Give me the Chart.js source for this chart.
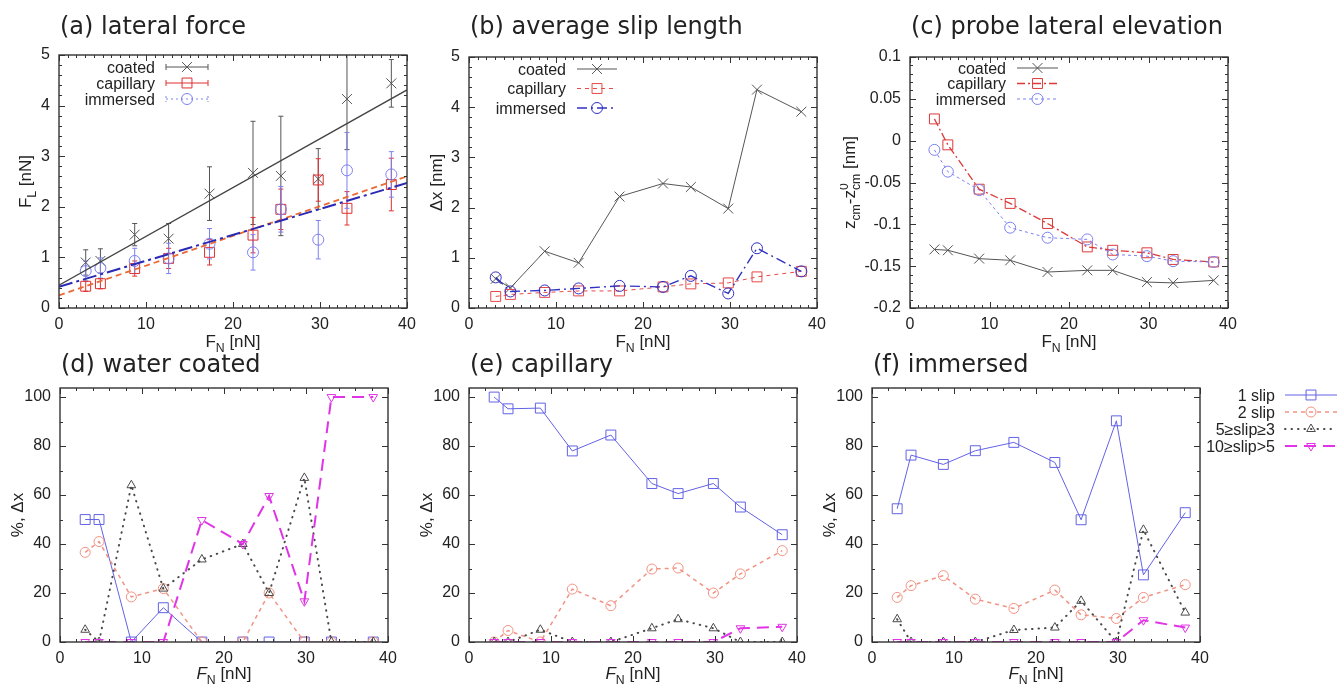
<!DOCTYPE html>
<html>
<head>
<meta charset="utf-8">
<title>Friction panels</title>
<script src="https://cdn.jsdelivr.net/npm/chart.js@4.4.1/dist/chart.umd.min.js"></script>
<style>
  html, body { margin: 0; background: #fff; }
  body { position: relative; width: 1342px; height: 684px; overflow: hidden; }
  .panel { position: absolute; }
</style>
</head>
<body>
<div class="panel" id="pa"><canvas></canvas></div>
<div class="panel" id="pb"><canvas></canvas></div>
<div class="panel" id="pc"><canvas></canvas></div>
<div class="panel" id="pd"><canvas></canvas></div>
<div class="panel" id="pe"><canvas></canvas></div>
<div class="panel" id="pf"><canvas></canvas></div>
<script>
// normal load F_N [nN], same for every panel
const loadN = [3.07, 4.76, 8.7, 12.6, 17.3, 22.3, 25.5, 29.8, 33.1, 38.2];

// (a) lateral force F_L [nN] and its error bars
const latCoated = [0.9, 0.93, 1.45, 1.37, 2.26, 2.67, 2.61, 2.55, 4.13, 4.44];
const latCoatedErr = [0.25, 0.24, 0.22, 0.3, 0.53, 1.02, 1.18, 0.6, 1.0, 0.47];
const latCapillary = [0.43, 0.48, 0.78, 0.98, 1.1, 1.44, 1.95, 2.53, 1.97, 2.44];
const latCapillaryErr = [0.1, 0.1, 0.15, 0.2, 0.25, 0.35, 0.4, 0.42, 0.33, 0.52];
const latImmersed = [0.73, 0.79, 0.93, 0.98, 1.27, 1.1, 1.95, 1.35, 2.72, 2.64];
const latImmersedErr = [0.2, 0.2, 0.25, 0.3, 0.3, 0.35, 0.45, 0.38, 0.75, 0.45];
// linear fits, evaluated at both ends of the axis
const fitLoad = [0, 40];
const fitCoated = [0.45, 4.31];
const fitCapillary = [0.25, 2.6];
const fitImmersed = [0.42, 2.47];

// (b) average slip length [nm]
const slipCoated = [0.58, 0.4, 1.13, 0.9, 2.22, 2.48, 2.41, 1.98, 4.35, 3.91];
const slipCapillary = [0.23, 0.27, 0.31, 0.34, 0.34, 0.42, 0.48, 0.5, 0.62, 0.73];
const slipImmersed = [0.61, 0.33, 0.35, 0.39, 0.44, 0.42, 0.64, 0.29, 1.19, 0.73];

// (c) probe lateral elevation [nm]
const elevCoated = [-0.130, -0.131, -0.141, -0.143, -0.157, -0.155, -0.155, -0.169, -0.170, -0.167];
const elevCapillary = [0.026, -0.005, -0.058, -0.075, -0.099, -0.127, -0.131, -0.134, -0.142, -0.145];
const elevImmersed = [-0.011, -0.037, -0.059, -0.104, -0.116, -0.118, -0.136, -0.138, -0.144, -0.145];

// (d)-(f) share of slip events [%]
const coat1 = [50, 50, 0, 14, 0, 0, 0, 0, 0, 0];
const coat2 = [36.6, 41, 18.4, 21.8, 0, 0, 20, 0, 0, 0];
const coat3to5 = [5, 0, 64, 21.8, 33.7, 40, 20, 67, 0, 0];
const coat6to10 = [0, 0, 0, 0, 49.8, 40, 59.6, 16.6, 100, 100];

const cap1 = [100, 95.2, 95.5, 78, 84.5, 64.7, 60.6, 64.7, 55.1, 43.8];
const cap2 = [0, 4.7, 0, 21.6, 14.8, 29.8, 30.2, 20, 27.8, 37.3];
const cap3to5 = [0, 0, 5, 0, 0, 5.6, 9.3, 5.6, 0, 0];
const cap6to10 = [0, 0, 0, 0, 0, 0, 0, 0, 5.6, 6.2];

const imm1 = [54.4, 76.3, 72.5, 78.1, 81.5, 73.3, 49.9, 90.3, 27.4, 52.8];
const imm2 = [18.2, 23, 27.1, 17.5, 13.7, 21.2, 11.1, 9.6, 18.2, 23.4];
const imm3to5 = [9.3, 0, 0, 0, 4.9, 5.9, 16.8, 0, 45.8, 12];
const imm6to10 = [0, 0, 0, 0, 0, 0, 0, 0, 8.9, 5.9];

// tick labels
const ticksLoad = [0, 10, 20, 30, 40];
const ticksForce = [0, 1, 2, 3, 4, 5];
const ticksElev = [-0.2, -0.15, -0.1, -0.05, 0, 0.05, 0.1];
const ticksPct = [0, 20, 40, 60, 80, 100];

const TICK_FONT = '"Liberation Sans", Arial, sans-serif';
const TITLE_FONT = '"DejaVu Sans", sans-serif';

const pts = ys => loadN.map((x, i) => ({ x, y: ys[i] }));
const fitPts = ys => fitLoad.map((x, i) => ({ x, y: ys[i] }));

// text with sub/superscripts: parts are [text, mode]
function drawRich(ctx, parts, cx, cy, size, vertical) {
  const small = size * 0.72;
  const fontOf = (s, it) => `${it ? 'italic ' : ''}${s}px ${TICK_FONT}`;
  const segs = parts.map(([t, m]) => {
    if (m === 'ss') {
      const [up, dn] = t.split('|');
      ctx.font = fontOf(small);
      return { m, up, dn, w: Math.max(ctx.measureText(up).width, ctx.measureText(dn).width) };
    }
    const s = (m === 'sub' || m === 'sup') ? small : size;
    ctx.font = fontOf(s, m === 'i');
    return { m, t, s, w: ctx.measureText(t).width };
  });
  const total = segs.reduce((a, g) => a + g.w, 0);
  ctx.save();
  ctx.translate(cx, cy);
  if (vertical) ctx.rotate(-Math.PI / 2);
  ctx.fillStyle = '#222';
  ctx.textAlign = 'left';
  ctx.textBaseline = 'alphabetic';
  const base = size * 0.36;
  let x = -total / 2;
  segs.forEach(g => {
    if (g.m === 'ss') {
      ctx.font = fontOf(small);
      ctx.fillText(g.up, x, base - size * 0.42);
      ctx.fillText(g.dn, x, base + size * 0.28);
    } else {
      ctx.font = fontOf(g.s, g.m === 'i');
      const dy = g.m === 'sub' ? size * 0.28 : g.m === 'sup' ? -size * 0.42 : 0;
      ctx.fillText(g.t, x, base + dy);
    }
    x += g.w;
  });
  ctx.restore();
}

// gnuplot-like decorations: box, inward ticks, error bars, titles, key
function deco(cfg) {
  const [bx, by] = cfg.box;
  return {
    id: 'deco',
    beforeDatasetsDraw(chart) {
      const { ctx, chartArea: a, scales: { x, y } } = chart;
      ctx.save();
      ctx.beginPath();
      ctx.rect(a.left, a.top, a.right - a.left, a.bottom - a.top);
      ctx.clip();
      chart.data.datasets.forEach(ds => {
        if (!ds.errorBars) return;
        ctx.strokeStyle = ds.borderColor;
        ctx.lineWidth = 1;
        ds.data.forEach((p, i) => {
          const e = ds.errorBars[i];
          const px = x.getPixelForValue(p.x);
          const y0 = y.getPixelForValue(p.y - e), y1 = y.getPixelForValue(p.y + e);
          ctx.beginPath();
          ctx.moveTo(px, y0); ctx.lineTo(px, y1);
          ctx.moveTo(px - 2.5, y0); ctx.lineTo(px + 2.5, y0);
          ctx.moveTo(px - 2.5, y1); ctx.lineTo(px + 2.5, y1);
          ctx.stroke();
        });
      });
      ctx.restore();
    },
    afterDatasetsDraw(chart) {
      const { ctx, chartArea: a, scales: { x, y } } = chart;
      ctx.save();
      ctx.strokeStyle = '#333';
      ctx.lineWidth = 1;
      const isMajor = (sc, v) => sc.ticks.some(t => Math.abs(t.value - v) < 1e-6);
      const nx = Math.round((x.max - x.min) / cfg.xMinor);
      for (let k = 0; k <= nx; k++) {
        const v = x.min + k * cfg.xMinor;
        const px = Math.round(x.getPixelForValue(v)) + 0.5;
        const len = isMajor(x, v) ? 6 : 3;
        ctx.beginPath();
        ctx.moveTo(px, a.bottom); ctx.lineTo(px, a.bottom - len);
        ctx.moveTo(px, a.top); ctx.lineTo(px, a.top + len);
        ctx.stroke();
      }
      const ny = Math.floor((y.max - y.min) / cfg.yMinor + 1e-6);
      for (let k = 0; k <= ny; k++) {
        const v = +(y.min + k * cfg.yMinor).toFixed(6);
        const py = Math.round(y.getPixelForValue(v)) + 0.5;
        const len = isMajor(y, v) ? 6 : 3;
        ctx.beginPath();
        ctx.moveTo(a.left, py); ctx.lineTo(a.left + len, py);
        ctx.moveTo(a.right, py); ctx.lineTo(a.right - len, py);
        ctx.stroke();
      }
      ctx.lineWidth = 1.4;
      ctx.strokeRect(a.left, a.top, a.right - a.left, a.bottom - a.top);
      ctx.restore();
    },
    afterDraw(chart) {
      const { ctx, chartArea: a } = chart;
      ctx.save();
      ctx.fillStyle = '#222';
      ctx.font = `24px ${TITLE_FONT}`;
      ctx.textAlign = 'left';
      ctx.textBaseline = 'alphabetic';
      ctx.fillText(cfg.title, a.left + 1, cfg.titleY - by);
      drawRich(ctx, cfg.xTitle, (a.left + a.right) / 2, cfg.xTitleY - by, 17, false);
      drawRich(ctx, cfg.yTitle, cfg.yTitleX - bx, (a.top + a.bottom) / 2, 17, true);
      const lg = cfg.legend;
      if (lg) {
        lg.items.forEach((di, k) => {
          const ds = chart.data.datasets[di];
          const ly = lg.y + k * lg.dy - by;
          const x0 = lg.x0 - bx, x1 = lg.x1 - bx;
          ctx.font = `16px ${TICK_FONT}`;
          ctx.textAlign = 'right';
          ctx.fillStyle = '#222';
          ctx.fillText(ds.label, lg.x - bx, ly + 5.5);
          ctx.strokeStyle = ds.borderColor;
          ctx.lineWidth = ds.borderWidth || 1;
          ctx.lineCap = ds.borderCapStyle || 'butt';
          ctx.setLineDash(ds.borderDash || []);
          ctx.beginPath();
          ctx.moveTo(x0, ly); ctx.lineTo(x1, ly);
          if (lg.caps) {
            ctx.moveTo(x0, ly - 3); ctx.lineTo(x0, ly + 3);
            ctx.moveTo(x1, ly - 3); ctx.lineTo(x1, ly + 3);
          }
          ctx.stroke();
          ctx.setLineDash([]);
          ctx.lineCap = 'butt';
          ctx.strokeStyle = ds.pointBorderColor || ds.borderColor;
          ctx.fillStyle = 'rgba(0,0,0,0)';
          ctx.lineWidth = ds.pointBorderWidth || 1;
          Chart.helpers.drawPoint(ctx, {
            pointStyle: ds.pointStyle, radius: ds.pointRadius,
            rotation: ds.pointRotation || 0, borderWidth: ds.pointBorderWidth || 1
          }, (x0 + x1) / 2, ly);
        });
      }
      ctx.restore();
    }
  };
}

function makePanel(id, cfg, datasets) {
  const [bx, by, bw, bh] = cfg.box;
  const [al, at, ar, ab] = cfg.area;
  const wrap = document.getElementById(id);
  Object.assign(wrap.style, { left: bx + 'px', top: by + 'px', width: bw + 'px', height: bh + 'px' });
  const yWidth = al - bx;
  const xHeight = by + bh - ab;
  const tickFont = { family: TICK_FONT, size: 16 };
  const fmt = v => String(+Number(v).toFixed(2));
  datasets.forEach((ds, i) => {
    ds.order = -i;
    ds.backgroundColor = 'rgba(0,0,0,0)';
    ds.pointBackgroundColor = 'rgba(0,0,0,0)';
    if (ds.borderWidth === undefined) ds.borderWidth = 1;
    if (ds.pointBorderWidth === undefined) ds.pointBorderWidth = 1;
  });
  return new Chart(wrap.querySelector('canvas'), {
    type: 'line',
    data: { datasets },
    options: {
      responsive: true,
      maintainAspectRatio: false,
      animation: false,
      events: [],
      layout: { padding: { left: 0, top: at - by, right: bx + bw - ar, bottom: 0 } },
      plugins: { legend: { display: false }, tooltip: { enabled: false }, title: { display: false } },
      scales: {
        x: {
          type: 'linear', min: 0, max: 40,
          grid: { display: false, drawTicks: false },
          border: { display: false },
          ticks: { padding: cfg.xPad, font: tickFont, color: '#222', maxRotation: 0, callback: fmt },
          afterBuildTicks: s => { s.ticks = ticksLoad.map(v => ({ value: v })); },
          afterFit: s => { s.height = xHeight; s.paddingLeft = 0; s.paddingRight = 0; }
        },
        y: {
          type: 'linear', min: cfg.yMin, max: cfg.yMax,
          grid: { display: false, drawTicks: false },
          border: { display: false },
          ticks: { padding: 9, font: tickFont, color: '#222', callback: fmt },
          afterBuildTicks: s => { s.ticks = cfg.yTicks.map(v => ({ value: v })); },
          afterFit: s => { s.width = yWidth; s.paddingTop = 0; s.paddingBottom = 0; }
        }
      }
    },
    plugins: [deco(cfg)]
  });
}

const xTop = [['F', ''], ['N', 'sub'], [' [nN]', '']];
const xBottom = [['F', 'i'], ['N', 'sub'], [' [nN]', '']];
const pctTitle = [['%, Δx', '']];

// colours
const GRAY = '#555555', RED = '#e03030', LBLUE = '#7c80f0', DBLUE = '#3030c4';
const C1 = '#6262e6', C2 = '#f29282', C3 = '#4a4a4a', C4 = '#e034e6';

// ----- (a) lateral force -----
makePanel('pa', {
  box: [0, 0, 420, 358], area: [59, 55, 407, 308],
  yMin: 0, yMax: 5, yTicks: ticksForce, xMinor: 1, yMinor: 0.2, xPad: 7,
  title: '(a) lateral force', titleY: 34,
  xTitle: xTop, xTitleY: 341,
  yTitle: [['F', ''], ['L', 'sub'], [' [nN]', '']], yTitleX: 25,
  legend: { items: [0, 1, 2], x: 155, x0: 166, x1: 208, y: 67, dy: 16, caps: true }
}, [
  { label: 'coated', data: pts(latCoated), errorBars: latCoatedErr, showLine: false,
    borderColor: GRAY, pointStyle: 'crossRot', pointRadius: 7 },
  { label: 'capillary', data: pts(latCapillary), errorBars: latCapillaryErr, showLine: false,
    borderColor: RED, pointStyle: 'rect', pointRadius: 7 },
  { label: 'immersed', data: pts(latImmersed), errorBars: latImmersedErr, showLine: false,
    borderColor: LBLUE, borderDash: [2, 3], pointStyle: 'circle', pointRadius: 5.5 },
  { label: 'coated fit', data: fitPts(fitCoated), borderColor: '#444', borderWidth: 1.3, pointRadius: 0 },
  { label: 'capillary fit', data: fitPts(fitCapillary), borderColor: '#ea6a34', borderWidth: 1.8,
    borderDash: [6, 4], pointRadius: 0 },
  { label: 'immersed fit', data: fitPts(fitImmersed), borderColor: '#2a2ab4', borderWidth: 2,
    borderDash: [14, 4, 3, 4], pointRadius: 0 }
]);

// ----- (b) average slip length -----
makePanel('pb', {
  box: [420, 0, 420, 358], area: [469, 57, 817, 308],
  yMin: 0, yMax: 5, yTicks: ticksForce, xMinor: 1, yMinor: 0.2, xPad: 7,
  title: '(b) average slip length', titleY: 34,
  xTitle: xTop, xTitleY: 341,
  yTitle: [['Δx [nm]', '']], yTitleX: 436,
  legend: { items: [0, 1, 2], x: 566, x0: 577, x1: 617, y: 69, dy: 19.5 }
}, [
  { label: 'coated', data: pts(slipCoated), borderColor: GRAY, pointStyle: 'crossRot', pointRadius: 7 },
  { label: 'capillary', data: pts(slipCapillary), borderColor: '#e84848', borderDash: [4, 4],
    pointStyle: 'rect', pointRadius: 7 },
  { label: 'immersed', data: pts(slipImmersed), borderColor: DBLUE, borderWidth: 1.4,
    borderDash: [10, 4, 2, 4], pointStyle: 'circle', pointRadius: 5.5 }
]);

// ----- (c) probe lateral elevation -----
makePanel('pc', {
  box: [840, 0, 420, 358], area: [910, 57, 1228, 308],
  yMin: -0.2, yMax: 0.1, yTicks: ticksElev, xMinor: 1, yMinor: 0.01, xPad: 7,
  title: '(c) probe lateral elevation', titleY: 34,
  xTitle: xTop, xTitleY: 341,
  yTitle: [['z', ''], ['cm', 'sub'], ['-z', ''], ['0|cm', 'ss'], [' [nm]', '']], yTitleX: 849,
  legend: { items: [0, 1, 2], x: 1006, x0: 1017, x1: 1058, y: 68, dy: 15.5 }
}, [
  { label: 'coated', data: pts(elevCoated), borderColor: GRAY, pointStyle: 'crossRot', pointRadius: 7 },
  { label: 'capillary', data: pts(elevCapillary), borderColor: '#dc3a3a', borderWidth: 1.3,
    borderDash: [8, 3, 2, 3], pointStyle: 'rect', pointRadius: 7 },
  { label: 'immersed', data: pts(elevImmersed), borderColor: LBLUE, borderDash: [3, 3],
    pointStyle: 'circle', pointRadius: 5.5 }
]);

// ----- (d)-(f) slip multiplicity -----
function slipSets(s1, s2, s3, s4) {
  return [
    { label: '1 slip', data: pts(s1), borderColor: C1, pointStyle: 'rect', pointRadius: 7 },
    { label: '2 slip', data: pts(s2), borderColor: C2, borderWidth: 1.5, borderDash: [4, 4],
      pointStyle: 'circle', pointRadius: 5 },
    { label: '5≥slip≥3', data: pts(s3), borderColor: C3, borderWidth: 2, borderDash: [0.5, 6],
      borderCapStyle: 'round', pointStyle: 'triangle', pointRadius: 5 },
    { label: '10≥slip>5', data: pts(s4), borderColor: C4, borderWidth: 2, borderDash: [12, 7],
      pointStyle: 'triangle', pointRotation: 180, pointRadius: 5 }
  ];
}
const bottomCommon = {
  yMin: 0, yMax: 103.7, yTicks: ticksPct, xMinor: 2, yMinor: 10, xPad: 7,
  xTitle: xBottom, xTitleY: 673, yTitle: pctTitle, titleY: 372
};

makePanel('pd', Object.assign({}, bottomCommon, {
  box: [0, 345, 415, 339], area: [60, 388, 388, 642],
  title: '(d) water coated', yTitleX: 17
}), slipSets(coat1, coat2, coat3to5, coat6to10));

makePanel('pe', Object.assign({}, bottomCommon, {
  box: [415, 345, 410, 339], area: [469, 388, 797, 642],
  title: '(e) capillary', yTitleX: 426
}), slipSets(cap1, cap2, cap3to5, cap6to10));

makePanel('pf', Object.assign({}, bottomCommon, {
  box: [815, 345, 527, 339], area: [872, 388, 1200, 642],
  title: '(f) immersed', yTitleX: 829,
  legend: { items: [0, 1, 2, 3], x: 1275, x0: 1285, x1: 1337, y: 395, dy: 17 }
}), slipSets(imm1, imm2, imm3to5, imm6to10));
</script>
</body>
</html>
